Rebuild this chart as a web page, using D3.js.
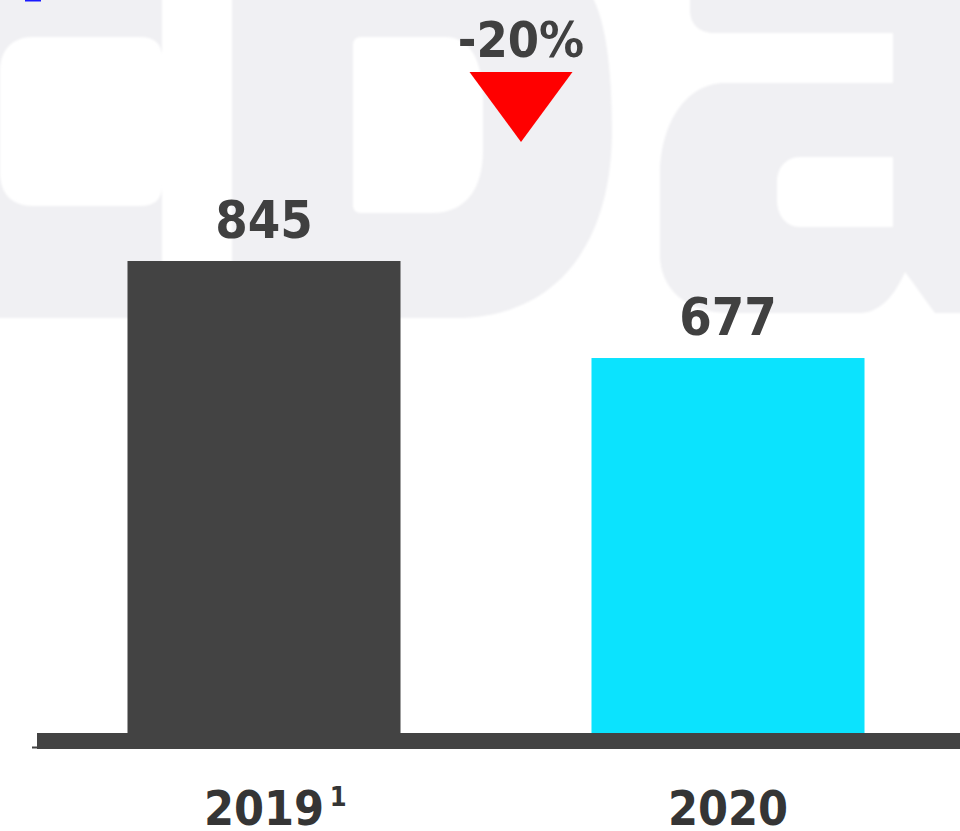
<!DOCTYPE html>
<html>
<head>
<meta charset="utf-8">
<script src="https://cdn.jsdelivr.net/npm/d3@7/dist/d3.min.js"></script>
<style>
  html, body { margin: 0; padding: 0; background: #ffffff; }
  svg { display: block; }
  .lbl { font-family: "DejaVu Sans Condensed", "DejaVu Sans", sans-serif; font-weight: bold; font-stretch: condensed; }
</style>
</head>
<body>
<svg id="chart" width="960" height="831"></svg>
<script>
// Data
const categories = ["2019", "2020"];
const values = [845, 677];
const footnotes = ["1", ""];
const barColors = ["#434343", "#0be3fe"];

const W = 960, H = 831;
const svg = d3.select("#chart");

// Scales
const x = d3.scaleBand()
  .domain(categories)
  .range([32, 960])
  .paddingInner(0.4116)
  .paddingOuter(0.2058);

const y = d3.scaleLinear()
  .domain([0, d3.max(values)])
  .range([749, 261]);

// Background logo mark, very light grey
const defs = svg.append("defs");
defs.append("filter").attr("id", "soft")
  .append("feGaussianBlur").attr("stdDeviation", 1.2);
const mark = svg.append("g").attr("fill", "#f0f0f3").attr("filter", "url(#soft)");

mark.append("path").attr("d",
  "M -60,-20 H 162 V 57 C 162,44 155,37 140,37 H 33 C 12,37 0,50 0,72 V 172 C 0,194 12,206 33,206 H 140 C 155,206 162,199 162,186 V 300 C 162,312 155,318 140,318 H -60 Z");
mark.append("path").attr("fill-rule", "evenodd").attr("d",
  "M 232,-20 H 570 C 598,-20 612,40 612,130 C 612,240 560,318 455,318 H 232 Z " +
  "M 361,37 H 445 C 470,37 483,60 483,100 V 150 C 483,190 465,213 432,213 H 361 C 356,213 353,210 353,205 V 45 C 353,40 356,37 361,37 Z");
mark.append("path").attr("fill-rule", "evenodd").attr("d",
  "M 690,-20 H 980 V 313 H 935 C 925,300 915,285 905,272 C 895,295 880,313 860,313 H 730 C 688,313 660,290 660,255 V 175 C 660,125 685,83 725,83 H 893 V 33 H 715 C 700,33 690,25 690,10 Z " +
  "M 800,157 H 893 V 227 H 800 C 786,227 777,215 777,200 V 182 C 777,168 786,157 800,157 Z");

// Small blue mark at top-left edge
svg.append("rect").attr("x", 25).attr("y", 0).attr("width", 16).attr("height", 1.5).attr("fill", "#1a1aff");

// Bars
svg.append("g").selectAll("rect")
  .data(categories.map((c, i) => ({ c, v: values[i], col: barColors[i] })))
  .join("rect")
  .attr("x", d => x(d.c))
  .attr("y", d => y(d.v))
  .attr("width", x.bandwidth())
  .attr("height", d => y(0) - y(d.v))
  .attr("fill", d => d.col);

// Baseline
svg.append("rect")
  .attr("x", x.range()[0] + 5).attr("y", y(0) - 16)
  .attr("width", W - x.range()[0] - 5).attr("height", 16)
  .attr("fill", "#434343");
svg.append("line")
  .attr("x1", x.range()[0]).attr("x2", x.range()[0] + 6)
  .attr("y1", y(0) - 1.5).attr("y2", y(0) - 1.5)
  .attr("stroke", "#434343").attr("stroke-width", 2);

// Value labels
svg.append("g").selectAll("text")
  .data(categories.map((c, i) => ({ c, v: values[i] })))
  .join("text")
  .attr("class", "lbl")
  .attr("x", d => x(d.c) + x.bandwidth() / 2)
  .attr("y", d => y(d.v) - 23)
  .attr("text-anchor", "middle")
  .attr("font-size", 52)
  .attr("fill", "#404040")
  .text(d => d.v);

// Category axis
const axis = svg.append("g")
  .attr("transform", `translate(0,${y(0)})`)
  .call(d3.axisBottom(x).tickSize(0));
axis.select(".domain").remove();
axis.selectAll(".tick text")
  .attr("class", "lbl")
  .attr("y", 76).attr("dy", 0)
  .attr("font-size", 48)
  .attr("fill", "#353535");

// Footnote markers beside the category labels
axis.selectAll(".tick").each(function (d, i) {
  if (!footnotes[i]) return;
  const t = d3.select(this).select("text");
  const w = t.node().getComputedTextLength();
  d3.select(this).append("text")
    .attr("class", "lbl")
    .attr("x", w / 2 + 14)
    .attr("y", 57)
    .attr("font-size", 27)
    .attr("fill", "#353535")
    .text(footnotes[i]);
});

// Change annotation
const change = Math.round((values[1] - values[0]) / values[0] * 100);
const cx = 521;
svg.append("text")
  .attr("class", "lbl")
  .attr("x", cx).attr("y", 57)
  .attr("text-anchor", "middle")
  .attr("font-size", 50)
  .attr("fill", "#404040")
  .text(`${change}%`);
svg.append("path")
  .attr("d", d3.line()([[cx - 51.5, 72], [cx + 51.5, 72], [cx, 142]]) + "Z")
  .attr("fill", change < 0 ? "#ff0000" : "#00a000");
</script>
</body>
</html>
